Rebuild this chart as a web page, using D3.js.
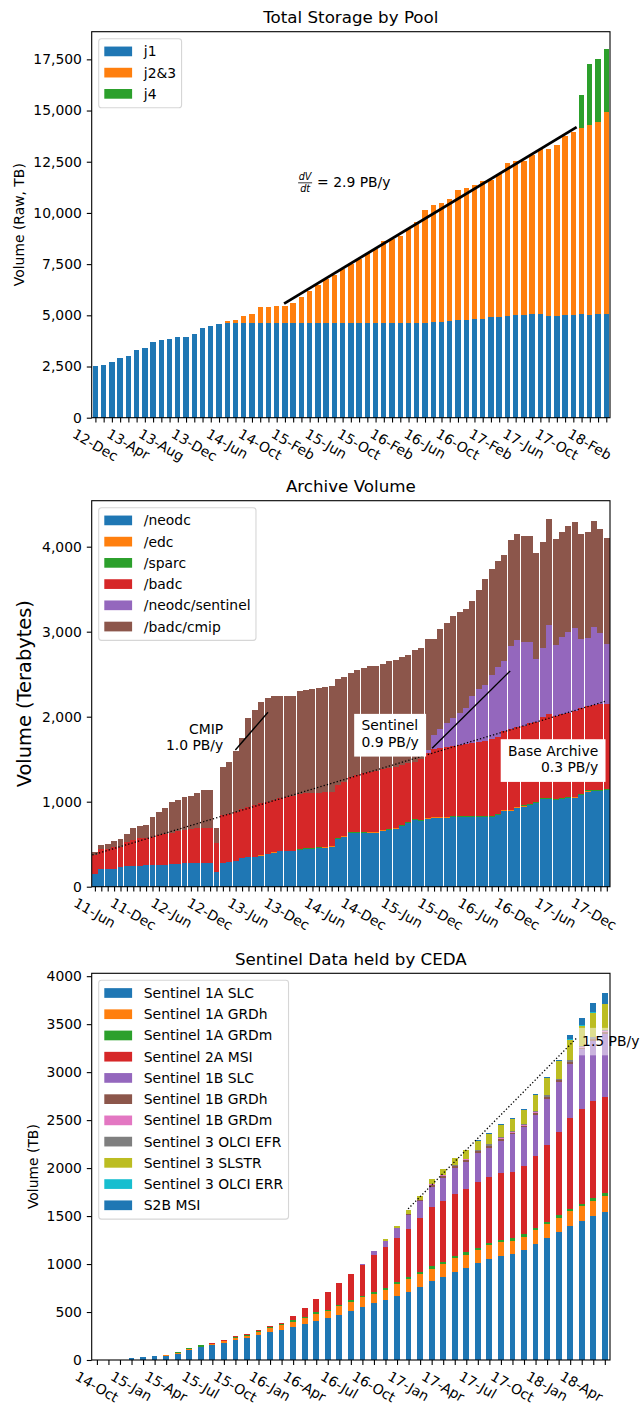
<!DOCTYPE html>
<html>
<head>
<meta charset="utf-8">
<script src="https://cdn.jsdelivr.net/npm/d3@7"></script>
<style>
  body { margin: 0; background: #fff; }
  svg text { font-family: "DejaVu Sans", sans-serif; fill: #000; }
</style>
</head>
<body>
<svg id="chart" width="641" height="1405"></svg>
<script>
// ---- Total Storage by Pool (TB, one bar per report) ----
const poolTickLabels = ["12-Dec", "13-Apr", "13-Aug", "13-Dec", "14-Jun", "14-Oct", "15-Feb", "15-Jun",
    "15-Oct", "16-Feb", "16-Jun", "16-Oct", "17-Feb", "17-Jun", "17-Oct", "18-Feb"];
const poolNames = ["j1", "j2&3", "j4"];
const poolJ1 = [
    2540, 2590, 2740, 2930, 3030, 3320, 3420, 3710, 3810, 3860,
    3960, 3960, 4110, 4400, 4500, 4600, 4610, 4610, 4610, 4610,
    4610, 4610, 4610, 4610, 4610, 4610, 4610, 4610, 4610, 4610,
    4610, 4610, 4610, 4610, 4610, 4610, 4610, 4610, 4610, 4630,
    4630, 4690, 4690, 4740, 4790, 4790, 4840, 4840, 4900, 4900,
    4950, 5000, 5000, 5040, 5080, 4950, 4950, 5000, 5000, 5040,
    5000, 5040, 5040];
const poolJ23 = [
    0, 0, 0, 0, 0, 0, 0, 0, 0, 0,
    0, 0, 0, 0, 0, 0, 130, 180, 380, 470,
    780, 780, 830, 830, 1010, 1300, 1600, 1890, 2170, 2380,
    2660, 2890, 3150, 3410, 3650, 4040, 4120, 4240, 4610, 4920,
    5490, 5720, 5800, 5960, 6310, 6450, 6530, 6710, 6730, 6990,
    7470, 7560, 7560, 7770, 8020, 8150, 8390, 8780, 8930, 9090,
    9290, 9380, 9890];
const poolJ4 = [
    0, 0, 0, 0, 0, 0, 0, 0, 0, 0,
    0, 0, 0, 0, 0, 0, 0, 0, 0, 0,
    0, 0, 0, 0, 0, 0, 0, 0, 0, 0,
    0, 0, 0, 0, 0, 0, 0, 0, 0, 0,
    0, 0, 0, 0, 0, 0, 0, 0, 0, 0,
    0, 0, 0, 0, 0, 0, 0, 0, 30, 1610,
    2980, 3090, 3060];

// ---- Archive Volume (TB, monthly) ----
const archTickLabels = ["11-Jun", "11-Dec", "12-Jun", "12-Dec", "13-Jun", "13-Dec", "14-Jun",
    "14-Dec", "15-Jun", "15-Dec", "16-Jun", "16-Dec", "17-Jun", "17-Dec"];
const archNames = ["/neodc", "/edc", "/sparc", "/badc", "/neodc/sentinel", "/badc/cmip"];
const archNeodc = [
    149, 208, 208, 208, 227, 243, 243, 243, 251, 251,
    251, 255, 267, 270, 274, 274, 274, 274, 274, 176,
    274, 294, 306, 333, 345, 353, 365, 384, 400, 416,
    416, 416, 431, 439, 443, 451, 459, 470, 557, 588,
    627, 627, 627, 635, 635, 659, 666, 682, 713, 745,
    784, 772, 792, 804, 811, 811, 815, 815, 815, 815,
    815, 815, 815, 843, 894, 894, 921, 941, 960, 980,
    1027, 1027, 1019, 1027, 1039, 1047, 1078, 1117, 1125, 1125,
    1137];
const archEdc = [
    0, 0, 0, 0, 0, 0, 0, 0, 0, 0,
    0, 0, 0, 0, 0, 0, 0, 0, 0, 0,
    0, 0, 0, 0, 0, 0, 12, 4, 4, 4,
    4, 4, 4, 4, 4, 4, 4, 4, 4, 4,
    4, 4, 4, 4, 4, 4, 4, 4, 4, 4,
    4, 4, 12, 12, 4, 4, 10, 4, 4, 4,
    4, 4, 4, 4, 4, 4, 12, 12, 4, 4,
    4, 10, 4, 10, 4, 4, 4, 12, 4, 4,
    4];
const archSparc = [
    0, 0, 0, 0, 0, 0, 0, 0, 0, 0,
    0, 0, 0, 0, 0, 0, 0, 0, 0, 0,
    0, 0, 0, 0, 0, 0, 0, 0, 0, 0,
    0, 0, 8, 8, 8, 8, 8, 8, 8, 8,
    8, 8, 8, 8, 8, 8, 8, 8, 8, 8,
    8, 8, 8, 8, 8, 8, 8, 8, 8, 8,
    8, 8, 8, 8, 8, 8, 8, 8, 8, 8,
    8, 8, 8, 8, 8, 8, 8, 8, 8, 8,
    8];
const archBadc = [
    223, 235, 235, 255, 243, 286, 306, 325, 325, 337,
    353, 364, 368, 381, 392, 400, 412, 420, 420, 334,
    569, 557, 576, 576, 596, 607, 603, 612, 615, 619,
    638, 646, 643, 647, 643, 642, 646, 635, 627, 635,
    647, 674, 694, 701, 713, 709, 718, 717, 702, 693,
    674, 713, 756, 799, 808, 816, 821, 835, 847, 866,
    878, 890, 906, 909, 929, 952, 941, 932, 949, 944,
    952, 986, 976, 986, 995, 1011, 1007, 988, 999, 1007,
    999];
const archSentinel = [
    0, 0, 0, 0, 0, 0, 0, 0, 0, 0,
    0, 0, 0, 0, 0, 0, 0, 0, 0, 0,
    0, 0, 0, 0, 0, 0, 0, 0, 0, 0,
    0, 0, 0, 0, 0, 0, 0, 0, 0, 0,
    0, 0, 0, 0, 0, 0, 0, 0, 0, 0,
    0, 0, 40, 161, 219, 282, 326, 376, 423, 549,
    616, 655, 756, 823, 819, 976, 1019, 984, 956, 737,
    820, 1046, 835, 901, 953, 976, 816, 803, 922, 843,
    706];
const archCmip = [
    40, 47, 59, 74, 91, 90, 137, 145, 149, 227,
    274, 302, 357, 368, 392, 392, 412, 443, 443, 184,
    568, 619, 713, 843, 1039, 1118, 1196, 1215, 1223, 1203,
    1184, 1176, 1215, 1215, 1227, 1231, 1227, 1243, 1246, 1227,
    1231, 1235, 1235, 1251, 1239, 1239, 1258, 1255, 1278, 1274,
    1313, 1310, 1305, 1129, 1184, 1176, 1203, 1192, 1168, 1121,
    1168, 1242, 1243, 1247, 1246, 1243, 1250, 1247, 1247, 1255,
    1246, 1247, 1247, 1243, 1242, 1242, 1242, 1243, 1242, 1219,
    1246];

// ---- Sentinel Data held by CEDA (TB, monthly) ----
const sentTickLabels = ["14-Oct", "15-Jan", "15-Apr", "15-Jul", "15-Oct", "16-Jan", "16-Apr", "16-Jul",
    "16-Oct", "17-Jan", "17-Apr", "17-Jul", "17-Oct", "18-Jan", "18-Apr"];
const sentNames = ["Sentinel 1A SLC", "Sentinel 1A GRDh", "Sentinel 1A GRDm", "Sentinel 2A MSI",
    "Sentinel 1B SLC", "Sentinel 1B GRDh", "Sentinel 1B GRDm", "Sentinel 3 OLCI EFR",
    "Sentinel 3 SLSTR", "Sentinel 3 OLCI ERR", "S2B MSI"];
const s1aSlc = [
    0, 0, 0, 21, 31, 42, 45, 62, 107, 135,
    156, 177, 211, 229, 256, 291, 315, 343, 377, 409,
    440, 467, 509, 551, 592, 623, 665, 706, 758, 821,
    862, 914, 956, 1008, 1049, 1080, 1101, 1143, 1205, 1267,
    1330, 1392, 1444, 1496, 1538];
const s1aGrdh = [
    0, 0, 0, 0, 0, 0, 7, 7, 5, 5,
    10, 20, 18, 24, 35, 41, 45, 52, 63, 72,
    69, 94, 97, 107, 101, 111, 125, 135, 135, 131,
    135, 146, 135, 135, 146, 146, 135, 135, 146, 146,
    149, 156, 156, 166, 176];
const s1aGrdm = [
    0, 0, 0, 0, 0, 0, 0, 14, 11, 14,
    4, 4, 7, 7, 10, 7, 14, 17, 10, 18,
    17, 17, 17, 14, 17, 17, 20, 21, 21, 25,
    25, 24, 31, 27, 21, 21, 31, 31, 24, 24,
    27, 24, 28, 31, 31];
const s2aMsi = [
    0, 0, 0, 0, 0, 0, 0, 0, 0, 0,
    11, 11, 13, 7, 11, 14, 14, 45, 94, 135,
    180, 222, 270, 315, 381, 423, 457, 499, 561, 613,
    630, 651, 665, 690, 696, 706, 696, 717, 755, 807,
    873, 952, 990, 1008, 998];
const s1bSlc = [
    0, 0, 0, 0, 0, 0, 0, 0, 0, 0,
    0, 0, 0, 0, 0, 0, 0, 0, 0, 0,
    0, 0, 0, 14, 41, 69, 104, 145, 177, 218,
    249, 263, 280, 301, 301, 333, 388, 398, 426, 478,
    523, 561, 620, 623, 657];
const s1bGrdh = [
    0, 0, 0, 0, 0, 0, 0, 0, 0, 0,
    0, 0, 0, 0, 0, 0, 0, 0, 0, 0,
    0, 0, 0, 0, 0, 0, 7, 14, 15, 18,
    20, 20, 20, 14, 18, 20, 18, 18, 21, 18,
    14, 18, 17, 21, 20];
const s1bGrdm = [
    0, 0, 0, 0, 0, 0, 0, 0, 0, 0,
    0, 0, 0, 0, 0, 0, 0, 0, 0, 0,
    0, 0, 0, 0, 0, 0, 0, 5, 5, 5,
    4, 4, 4, 7, 4, 3, 3, 3, 4, 4,
    3, 7, 5, 5, 5];
const s3OlciEfr = [
    0, 0, 0, 0, 0, 0, 0, 0, 0, 0,
    0, 0, 0, 0, 0, 0, 0, 0, 0, 0,
    0, 0, 0, 0, 0, 0, 0, 0, 0, 0,
    5, 5, 8, 10, 14, 17, 14, 14, 17, 21,
    14, 18, 10, 12, 15];
const s3Slstr = [
    0, 0, 0, 0, 0, 0, 0, 0, 0, 0,
    0, 0, 0, 0, 0, 0, 0, 0, 0, 0,
    0, 0, 0, 0, 0, 14, 21, 40, 42, 56,
    65, 82, 93, 94, 102, 119, 128, 149, 165, 179,
    184, 207, 210, 257, 265];
const s3OlciErr = [
    0, 0, 0, 0, 0, 0, 0, 0, 0, 0,
    0, 0, 0, 0, 0, 0, 0, 0, 0, 0,
    0, 0, 0, 0, 0, 0, 0, 0, 0, 0,
    0, 0, 0, 0, 0, 0, 0, 0, 0, 0,
    4, 14, 10, 10, 8];
const s2bMsi = [
    0, 0, 0, 0, 0, 0, 0, 0, 0, 0,
    0, 0, 0, 0, 0, 0, 0, 0, 0, 0,
    0, 0, 0, 0, 0, 0, 0, 0, 0, 0,
    0, 0, 0, 10, 10, 10, 7, 10, 10, 7,
    10, 38, 73, 90, 110];

// ---- drawing ----
const F = 13.9;            // 10pt at 100 dpi
const AX_L = 91.7, AX_R = 610;
const TICK = 4.9, PAD = 4.9;
const tab10 = d3.schemeCategory10;
const svg = d3.select("#chart");

function panel(o) {
    const g = svg.append("g");
    const n = o.series[0].length;
    const x = d3.scaleLinear().domain([-o.xPad, n - 1 + o.xPad]).range([AX_L, AX_R]);
    const y = d3.scaleLinear().domain([0, o.yMax]).range([o.bottom, o.top]);

    const keys = o.names.map((d, j) => "k" + j);
    const rows = d3.range(n).map(i => Object.fromEntries(keys.map((k, j) => [k, o.series[j][i]])));
    const layers = d3.stack().keys(keys)(rows);
    const bw = x(o.barWidth) - x(0);

    // bars
    g.append("g")
        .attr("shape-rendering", "crispEdges")
        .selectAll("g")
        .data(layers)
        .join("g")
        .attr("fill", (d, j) => o.colors[j])
        .selectAll("rect")
        .data(d => d.map((s, i) => ({ i, y0: s[0], y1: s[1] })).filter(s => s.y1 > s.y0))
        .join("rect")
        .attr("x", d => x(d.i) - bw / 2)
        .attr("width", bw)
        .attr("y", d => y(d.y1))
        .attr("height", d => y(d.y0) - y(d.y1));

    if (o.annotate) o.annotate(g, x, y);

    // spines
    g.append("rect")
        .attr("x", AX_L).attr("y", o.top)
        .attr("width", AX_R - AX_L).attr("height", o.bottom - o.top)
        .attr("fill", "none").attr("stroke", "#000").attr("stroke-width", 1.1);

    // y axis
    const ya = g.append("g")
        .attr("transform", `translate(${AX_L},0)`)
        .call(d3.axisLeft(y).tickValues(o.yTicks).tickFormat(o.yFormat)
            .tickSize(TICK).tickPadding(PAD).tickSizeOuter(0));
    ya.select(".domain").remove();
    ya.attr("font-size", F).attr("font-family", "DejaVu Sans");
    ya.selectAll("line").attr("stroke-width", 1.1);

    // x axis: a tick on every bar, labels every few bars
    const xa = g.append("g")
        .attr("transform", `translate(0,${o.bottom})`)
        .call(d3.axisBottom(x).tickValues(d3.range(n)).tickFormat("")
            .tickSize(TICK).tickSizeOuter(0));
    xa.select(".domain").remove();
    xa.selectAll("line").attr("stroke-width", 1.1);

    const rad = 30 * Math.PI / 180;
    g.append("g")
        .attr("font-size", F)
        .selectAll("text")
        .data(o.tickLabels)
        .join("text")
        .attr("text-anchor", "middle")
        .attr("dominant-baseline", "central")
        .text(d => d)
        .attr("transform", function (d, k) {
            const w = this.getComputedTextLength();
            const bh = w * Math.sin(rad) + F * Math.cos(rad);
            return `translate(${x(k * o.tickEvery)},${o.bottom + TICK + PAD - 1 + bh / 2}) rotate(30)`;
        });

    // title
    g.append("text")
        .attr("x", (AX_L + AX_R) / 2).attr("y", o.top - 8.3)
        .attr("text-anchor", "middle").attr("font-size", 16.7)
        .text(o.title);

    // y label
    g.append("text")
        .attr("transform", `translate(${o.ylabelX},${(o.top + o.bottom) / 2}) rotate(-90)`)
        .attr("text-anchor", "middle").attr("font-size", o.ylabelSize)
        .text(o.ylabel);

    legend(g, o.names, o.colors, AX_L + 7, o.top + 7);
}

function legend(g, labels, colors, left, top) {
    const row = 21.23;
    const lg = g.append("g");
    const box = lg.append("rect")
        .attr("x", left).attr("y", top)
        .attr("height", 5.3 + labels.length * row)
        .attr("rx", 2.8)
        .attr("fill", "#fff").attr("fill-opacity", 0.8)
        .attr("stroke", "#ccc").attr("stroke-opacity", 0.8).attr("stroke-width", 1.1);
    const items = lg.selectAll("g.item")
        .data(labels)
        .join("g")
        .attr("class", "item")
        .attr("transform", (d, k) => `translate(${left + 5.6},${top + 12.7 + k * row})`);
    items.append("rect")
        .attr("y", -4.85).attr("width", 27.8).attr("height", 9.7)
        .attr("fill", (d, k) => colors[k]);
    items.append("text")
        .attr("x", 39.5).attr("dy", "0.36em").attr("font-size", F)
        .text(d => d);
    const maxW = d3.max(items.selectAll("text").nodes(), t => t.getComputedTextLength());
    box.attr("width", 39.5 + maxW + 11);
}

function boxedText(g, lines, x0, y0, anchor, pad, fill, opacity) {
    const t = g.append("text").attr("font-size", F).attr("text-anchor", anchor);
    lines.forEach((s, k) => t.append("tspan").attr("x", x0).attr("y", y0 + k * 16.7).text(s));
    if (fill) {
        const b = t.node().getBBox();
        g.insert("rect", () => t.node())
            .attr("x", b.x - pad[3]).attr("y", b.y - pad[0])
            .attr("width", b.width + pad[1] + pad[3]).attr("height", b.height + pad[0] + pad[2])
            .attr("fill", fill).attr("fill-opacity", opacity);
    }
    return t;
}

// panel 1
panel({
    top: 31.7, bottom: 417.7, yMax: 18850,
    yTicks: d3.range(0, 17501, 2500), yFormat: d3.format(","),
    names: poolNames, series: [poolJ1, poolJ23, poolJ4], colors: tab10.slice(0, 3),
    xPad: 0.45, barWidth: 0.65,
    tickLabels: poolTickLabels, tickEvery: 4,
    title: "Total Storage by Pool", ylabel: "Volume (Raw, TB)", ylabelSize: F, ylabelX: 24,
    annotate: (g, x, y) => {
        g.append("line")
            .attr("x1", x(22.9)).attr("y1", y(5570))
            .attr("x2", x(58.4)).attr("y2", y(14190))
            .attr("stroke", "#000").attr("stroke-width", 2.8);
        const nx = x(24.6), ny = y(11260);
        g.append("text").attr("x", nx + 7).attr("y", ny - 7)
            .attr("font-size", 9.7).attr("font-style", "italic").attr("text-anchor", "middle").text("dV");
        g.append("line").attr("x1", nx).attr("x2", nx + 14).attr("y1", ny - 4.3).attr("y2", ny - 4.3)
            .attr("stroke", "#000").attr("stroke-width", 0.8);
        g.append("text").attr("x", nx + 7).attr("y", ny + 4.7)
            .attr("font-size", 9.7).attr("font-style", "italic").attr("text-anchor", "middle").text("dt");
        g.append("text").attr("x", nx + 19).attr("y", ny).attr("font-size", F).text("= 2.9 PB/y");
    }
});

// panel 2
panel({
    top: 500.7, bottom: 886.7, yMax: 4541,
    yTicks: d3.range(0, 4001, 1000), yFormat: d3.format(","),
    names: archNames, series: [archNeodc, archEdc, archSparc, archBadc, archSentinel, archCmip],
    colors: tab10.slice(0, 6),
    xPad: 0.5, barWidth: 0.93,
    tickLabels: archTickLabels, tickEvery: 6,
    title: "Archive Volume", ylabel: "Volume (Terabytes)", ylabelSize: 19.4, ylabelX: 31,
    annotate: (g, x, y) => {
        g.append("line")
            .attr("x1", x(-0.4)).attr("y1", y(373))
            .attr("x2", x(79.8)).attr("y2", y(2181))
            .attr("stroke", "#000").attr("stroke-width", 1.3).attr("stroke-dasharray", "1.3,2.1");
        g.append("line")
            .attr("x1", x(21.95)).attr("y1", y(1608))
            .attr("x2", x(27.05)).attr("y2", y(2052))
            .attr("stroke", "#000").attr("stroke-width", 1.4);
        g.append("line")
            .attr("x1", x(52.7)).attr("y1", y(1628))
            .attr("x2", x(64.9)).attr("y2", y(2538))
            .attr("stroke", "#000").attr("stroke-width", 1.4);
        boxedText(g, ["CMIP", "1.0 PB/y"], x(20.06), y(1802), "end");
        boxedText(g, ["Sentinel", "0.9 PB/y"], x(41.66), y(1839), "start", [3.5, 7.3, 6.5, 7.3], "#fff", 1);
        boxedText(g, ["Base Archive", "0.3 PB/y"], x(78.66), y(1541), "end", [3.5, 7.3, 6.5, 7.3], "#fff", 1);
    }
});

// panel 3
panel({
    top: 973.3, bottom: 1360, yMax: 4030,
    yTicks: d3.range(0, 4001, 500), yFormat: d3.format("d"),
    names: sentNames,
    series: [s1aSlc, s1aGrdh, s1aGrdm, s2aMsi, s1bSlc, s1bGrdh, s1bGrdm, s3OlciEfr, s3Slstr, s3OlciErr, s2bMsi],
    colors: tab10.concat([tab10[0]]),
    xPad: 0.45, barWidth: 0.5,
    tickLabels: sentTickLabels, tickEvery: 3,
    title: "Sentinel Data held by CEDA", ylabel: "Volume (TB)", ylabelSize: F, ylabelX: 37.5,
    annotate: (g, x, y) => {
        g.append("line")
            .attr("x1", x(26.96)).attr("y1", y(1575))
            .attr("x2", x(41.6)).attr("y2", y(3360))
            .attr("stroke", "#000").attr("stroke-width", 1.3).attr("stroke-dasharray", "1.3,2.1");
        boxedText(g, ["1.5 PB/y"], x(42.03), y(3275), "start", [4.9, 20, 6.6, 4.3], "#fff", 0.5);
    }
});
</script>
</body>
</html>
